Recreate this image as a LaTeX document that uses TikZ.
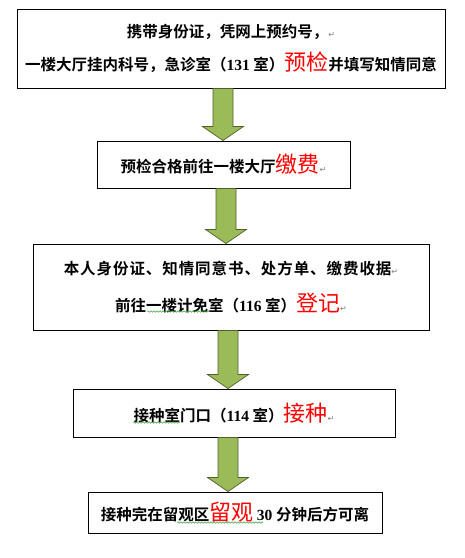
\documentclass[tikz,border=0pt]{standalone}
\usepackage{fontspec}
\usepackage{xcolor}
\newfontfamily\cjk{Noto Sans CJK SC}[BoldFont={Noto Sans CJK SC Bold}]
\newfontfamily\cjkwide{Noto Sans CJK SC}[BoldFont={Noto Sans CJK SC Bold}, LetterSpace=6]
\newfontfamily\numfont{Liberation Serif}
\newfontfamily\symfont{DejaVu Sans}
\usetikzlibrary{calc, decorations.pathmorphing}

\definecolor{arrowgreen}{HTML}{9BBB59}
\definecolor{arrowline}{HTML}{4F5F2E}
\definecolor{wavegreen}{HTML}{3FA03F}

% red key word, room number, return mark
\newcommand{\keyword}[1]{{\cjk\mdseries\fontsize{22}{33}\selectfont\color{red}#1}}
\newcommand{\room}[1]{{\numfont\bfseries #1}}
\newcommand{\retmark}{{\symfont\mdseries\fontsize{8}{8}\selectfont\color{gray}↵}}

\begin{document}
\begin{tikzpicture}[
    x=1pt, y=-1pt,
    every node/.style={font=\cjk\bfseries\fontsize{15.5}{33}\selectfont},
    stepbox/.style={draw, line width=1pt, inner sep=0pt, align=center, anchor=center},
    flowarrow/.style={fill=arrowgreen, draw=arrowline, line width=0.7pt, line join=miter},
    spellwave/.style={draw=wavegreen, line width=0.5pt, decorate,
        decoration={snake, amplitude=0.8pt, segment length=3pt}},
    ]

    \useasboundingbox (0,0) rectangle (465,558);

    % Step 1: check-in and pre-check
    \node[stepbox, minimum width=428, minimum height=79] (s1) at (231,48.5)
        {携带身份证，凭网上预约号，\retmark\\
         一楼大厅挂内科号，急诊室（\room{131} 室）\keyword{预检}并填写知情同意};

    % Step 2: payment
    \node[stepbox, minimum width=253, minimum height=47] (s2) at (223.5,164.5)
        {预检合格前往一楼大厅\keyword{缴费}\retmark};

    % Step 3: registration
    \node[stepbox, minimum width=396, minimum height=86] (s3) at (231,287)
        {{\cjkwide\bfseries 本人身份证、知情同意书、处方单、缴费收据}\retmark\\[4pt]
         前往一楼计免室（\room{116} 室）\keyword{登记}\retmark};

    % Step 4: vaccination
    \node[stepbox, minimum width=322, minimum height=48] (s4) at (234,413)
        {接种室门口（\room{114} 室）\keyword{接种}\retmark};

    % Step 5: observation
    \node[stepbox, minimum width=294, minimum height=41] (s5) at (235,512.5)
        {接种完在留观区\keyword{留观} \room{30} 分钟后方可离};

    % Block arrows between the steps
    \foreach \ax/\from/\to in {223/s1/s2, 226/s2/s3, 228/s3/s4, 228/s4/s5} {
        \coordinate (ax) at (\ax,0);
        \draw[flowarrow] ([xshift=-10]ax |- \from.south)
            -- ([xshift=-10,yshift=14]ax |- \to.north)
            -- ([xshift=-20.5,yshift=14]ax |- \to.north)
            -- (ax |- \to.north)
            -- ([xshift=20.5,yshift=14]ax |- \to.north)
            -- ([xshift=10,yshift=14]ax |- \to.north)
            -- ([xshift=10]ax |- \from.south) -- cycle;
    }

    % Spell-check underlines
    \draw[spellwave] (147,311.5) -- (210,311.5);
    \draw[spellwave] (133,422.5) -- (180,422.5);
    \draw[spellwave] (177,522.5) -- (263,522.5);

\end{tikzpicture}
\end{document}
